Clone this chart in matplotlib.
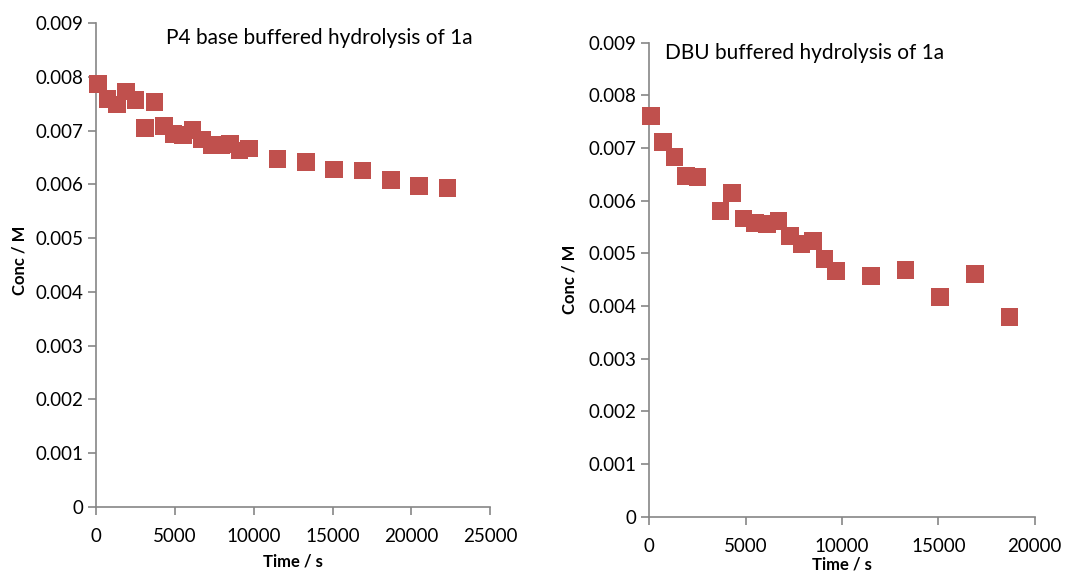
"""
Two scatter panels: buffered hydrolysis of 1a (P4 base vs DBU).
"""

import matplotlib.pyplot as plt

# P4 base buffered hydrolysis
p4_time = [100, 700, 1300, 1900, 2500, 3100, 3700, 4300, 4900, 5500, 6100,
           6700, 7300, 7900, 8500, 9100, 9700, 11500, 13300, 15100, 16900,
           18700, 20500, 22300]
p4_conc = [0.00787, 0.00759, 0.00749, 0.00773, 0.00757, 0.00705, 0.00753,
           0.00709, 0.00694, 0.00692, 0.00701, 0.00684, 0.00673, 0.00673,
           0.00675, 0.00663, 0.00667, 0.00647, 0.00642, 0.00628, 0.00626,
           0.00608, 0.00597, 0.00593]

# DBU buffered hydrolysis
dbu_time = [100, 700, 1300, 1900, 2500, 3700, 4300, 4900, 5500, 6100, 6700,
            7300, 7900, 8500, 9100, 9700, 11500, 13300, 15100, 16900, 18700]
dbu_conc = [0.00761, 0.00711, 0.00683, 0.00647, 0.00645, 0.00580, 0.00615,
            0.00566, 0.00558, 0.00556, 0.00561, 0.00533, 0.00518, 0.00523,
            0.00489, 0.00467, 0.00457, 0.00468, 0.00417, 0.00461, 0.00379]

y_ticks = [0, 0.001, 0.002, 0.003, 0.004, 0.005, 0.006, 0.007, 0.008, 0.009]
y_ticklabels = ["0", "0.001", "0.002", "0.003", "0.004", "0.005", "0.006",
                "0.007", "0.008", "0.009"]

MARKER_COLOR = "#C0504D"
AXIS_COLOR = "#868686"
FONT = ["Lato", "DejaVu Sans"]

plt.rcParams["font.family"] = FONT


def style_axes(ax, xmax, xstep):
    ax.set_xlim(0, xmax)
    ax.set_ylim(0, 0.009)
    ax.set_xticks(range(0, xmax + 1, xstep))
    ax.set_yticks(y_ticks)
    ax.set_yticklabels(y_ticklabels)
    for side in ("top", "right"):
        ax.spines[side].set_visible(False)
    for side in ("left", "bottom"):
        ax.spines[side].set_color(AXIS_COLOR)
        ax.spines[side].set_linewidth(1.2)
    ax.tick_params(axis="both", direction="out", length=6, width=1.2,
                   color=AXIS_COLOR, labelsize=13.5, labelcolor="black")
    ax.tick_params(axis="x", pad=9)
    ax.set_xlabel("Time / s", fontsize=12, fontweight="bold")
    ax.set_ylabel("Conc / M", fontsize=12, fontweight="bold")


fig = plt.figure(figsize=(10.8, 5.73), dpi=100)

ax1 = fig.add_axes([0.0892, 0.1157, 0.3645, 0.8436])
ax1.scatter(p4_time, p4_conc, marker="s", s=160, color=MARKER_COLOR,
            edgecolors="none", zorder=3, clip_on=False)
style_axes(ax1, 25000, 5000)
ax1.text(0.177, 0.97, "P4 base buffered hydrolysis of 1a", transform=ax1.transAxes,
         fontsize=15, va="center", ha="left")
ax1.yaxis.set_label_coords(-0.175, 0.51)
ax1.xaxis.set_label_coords(0.50, -0.096)

ax2 = fig.add_axes([0.6012, 0.0983, 0.3568, 0.8272])
ax2.scatter(dbu_time, dbu_conc, marker="s", s=160, color=MARKER_COLOR,
            edgecolors="none", zorder=3, clip_on=False)
style_axes(ax2, 20000, 5000)
ax2.text(0.041, 0.978, "DBU buffered hydrolysis of 1a", transform=ax2.transAxes,
         fontsize=15, va="center", ha="left")
ax2.yaxis.set_label_coords(-0.187, 0.5)
ax2.xaxis.set_label_coords(0.50, -0.084)

fig.savefig("out.png", dpi=100)
plt.close(fig)
